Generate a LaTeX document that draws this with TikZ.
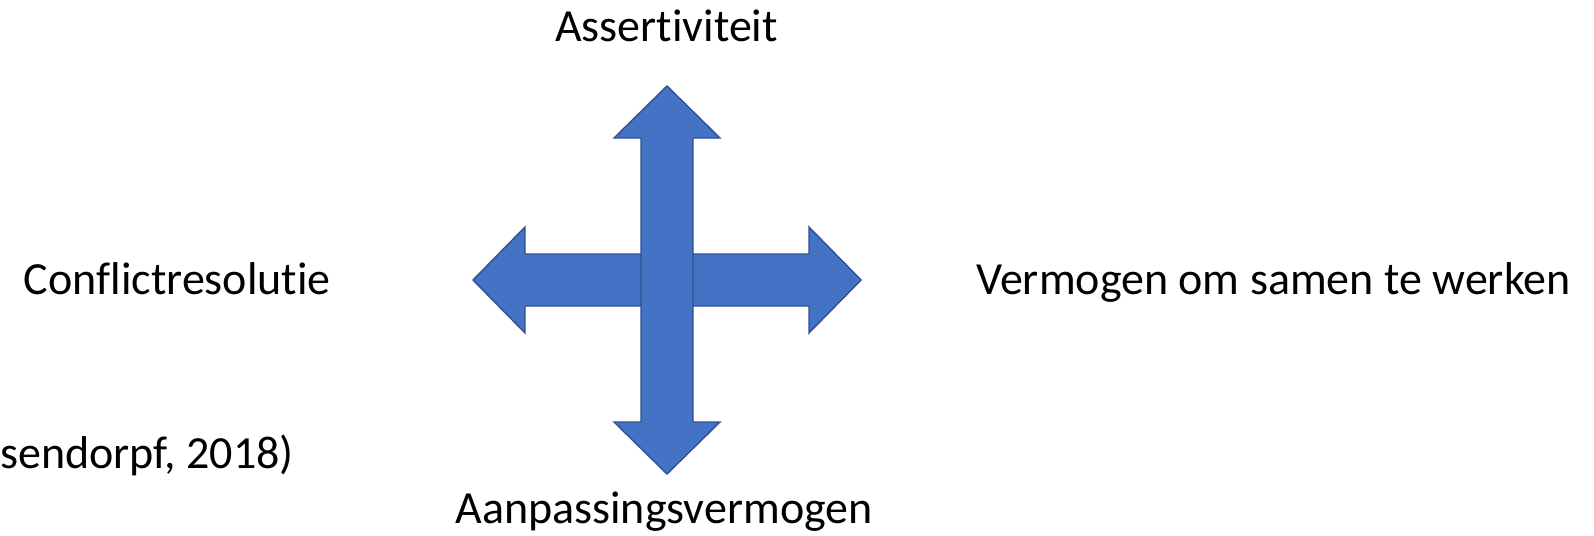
\documentclass[tikz,border=0pt]{standalone}
\usepackage{fontspec}
\setmainfont{Carlito}[Ligatures={NoCommon}]
\definecolor{arrowfill}{HTML}{4472C4}
\definecolor{arrowline}{HTML}{2F528F}
\begin{document}
\begin{tikzpicture}[x=1pt,y=-1pt,
  lbl/.style={inner sep=0pt,font=\fontsize{46}{55}\selectfont,text=black},
  quad/.style={fill=arrowfill,draw=arrowline,line width=1.4pt,line join=miter}]
\useasboundingbox (0,0) rectangle (1594,535);
% centre of the cross and its dimensions
\def\cx{667}\def\cy{280}
\def\sw{26}\def\hw{53}\def\hb{142}\def\tp{194}
% horizontal double arrow
\draw[quad] (\cx-\tp,\cy) -- (\cx-\hb,\cy-\hw) -- (\cx-\hb,\cy-\sw) -- (\cx+\hb,\cy-\sw)
  -- (\cx+\hb,\cy-\hw) -- (\cx+\tp,\cy) -- (\cx+\hb,\cy+\hw) -- (\cx+\hb,\cy+\sw)
  -- (\cx-\hb,\cy+\sw) -- (\cx-\hb,\cy+\hw) -- cycle;
% vertical double arrow
\draw[quad] (\cx,\cy-\tp) -- (\cx+\hw,\cy-\hb) -- (\cx+\sw,\cy-\hb) -- (\cx+\sw,\cy+\hb)
  -- (\cx+\hw,\cy+\hb) -- (\cx,\cy+\tp) -- (\cx-\hw,\cy+\hb) -- (\cx-\sw,\cy+\hb)
  -- (\cx-\sw,\cy-\hb) -- (\cx-\hw,\cy-\hb) -- cycle;
% labels
\node[lbl,anchor=base] (assert) at (666.5,41.7) {Assertiviteit};
\node[lbl,anchor=base] (aanp) at (664,523) {Aanpassingsvermogen};
\node[lbl,anchor=base east] (confl) at (331,294) {Conflictresolutie};
\node[lbl,anchor=base west] (verm) at (976,294) {Vermogen om samen te werken};
\node[lbl,anchor=base west] (cite) at (0,468) {sendorpf, 2018)};
\end{tikzpicture}
\end{document}
